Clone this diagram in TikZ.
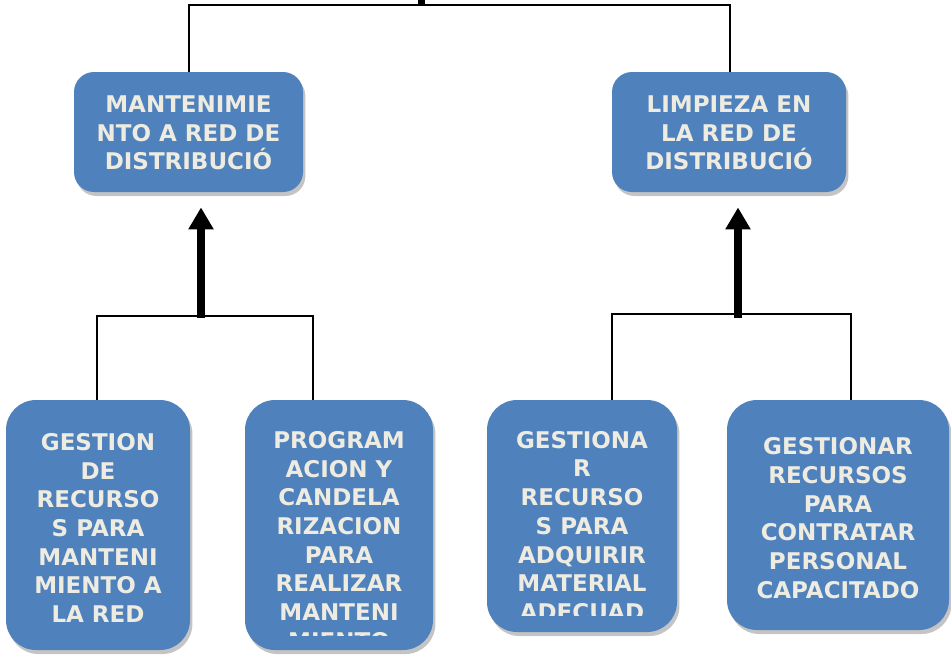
\documentclass[tikz,border=0pt]{standalone}
\usepackage{fontspec}
\setmainfont{DejaVu Sans}
\usetikzlibrary{arrows.meta,calc,shadows}
\definecolor{boxblue}{HTML}{4F81BD}
\definecolor{boxtext}{HTML}{EEECE1}
\definecolor{shadowgray}{HTML}{C4C4C4}
\begin{document}
\begin{tikzpicture}[x=0.5pt,y=-0.5pt,
  basebox/.style={rectangle, fill=boxblue, inner sep=0pt,
    drop shadow={shadow xshift=1.2pt, shadow yshift=-2pt, fill=shadowgray, opacity=1}},
  topbox/.style={basebox, rounded corners=10pt, minimum height=60pt},
  botbox/.style={basebox, rounded corners=15pt},
  boxlabel/.style={text=boxtext, align=center, inner sep=0pt,
    font=\fontsize{11.5pt}{14.35pt}\selectfont\bfseries},
  link/.style={draw=black, line width=1pt},
  bigarrow/.style={draw=black, line width=4pt,
    -{Triangle[width=12pt,length=11pt]}, shorten >=7.5pt}]
\useasboundingbox (0,0) rectangle (951,661);

% top boxes
\node[topbox, minimum width=114.5pt] (m1) at (188.5,132) {};
\node[topbox, minimum width=117pt] (m2) at (729,132) {};
\node[boxlabel] (m1t) at (188.5,133) {MANTENIMIE\\NTO A RED DE\\DISTRIBUCIÓ};
\node[boxlabel] (m2t) at (729,133) {LIMPIEZA EN\\LA RED DE\\DISTRIBUCIÓ};

% bottom boxes
\node[botbox, minimum width=92pt, minimum height=125pt] (A) at (98,525) {};
\node[botbox, minimum width=94pt, minimum height=125pt] (B) at (339,525) {};
\node[botbox, minimum width=95pt, minimum height=116pt] (C) at (582,516) {};
\node[botbox, minimum width=111pt, minimum height=115pt] (D) at (838,515) {};

\node[boxlabel] (At) at (98,528) {GESTION\\DE\\RECURSO\\S PARA\\MANTENI\\MIENTO A\\LA RED};
\begin{scope}
  \clip (245,400) rectangle (433,635);
  \node[boxlabel] (Bt) at (339,540.5) {PROGRAM\\ACION Y\\CANDELA\\RIZACION\\PARA\\REALIZAR\\MANTENI\\MIENTO};
\end{scope}
\begin{scope}
  \clip (487,400) rectangle (677,615.5);
  \node[boxlabel] (Ct) at (582,526) {GESTIONA\\R\\RECURSO\\S PARA\\ADQUIRIR\\MATERIAL\\ADECUAD};
\end{scope}
\node[boxlabel] (Dt) at (838,518) {GESTIONAR\\RECURSOS\\PARA\\CONTRATAR\\PERSONAL\\CAPACITADO};

% top connectors
\coordinate (tl) at (189,5);
\coordinate (tr) at (730,5);
\coordinate (tc) at (421,5);
\coordinate (tout) at (421,-2);
\draw[link] (m1.north -| tl) -- (tl) -- (tr) -- (m2.north -| tr);
\draw[draw=black, line width=3.5pt] (tc) -- (tout);

% left group
\coordinate (l1) at (97,316);
\coordinate (l2) at (313,316);
\coordinate (la) at (201,318);
\draw[link] (A.north -| l1) -- (l1) -- (l2) -- (B.north -| l2);
\draw[bigarrow] (la) -- (m1.south -| la);

% right group
\coordinate (r1) at (612,314);
\coordinate (r2) at (851,314);
\coordinate (ra) at (738,318);
\draw[link] (C.north -| r1) -- (r1) -- (r2) -- (D.north -| r2);
\draw[bigarrow] (ra) -- (m2.south -| ra);
\end{tikzpicture}
\end{document}
